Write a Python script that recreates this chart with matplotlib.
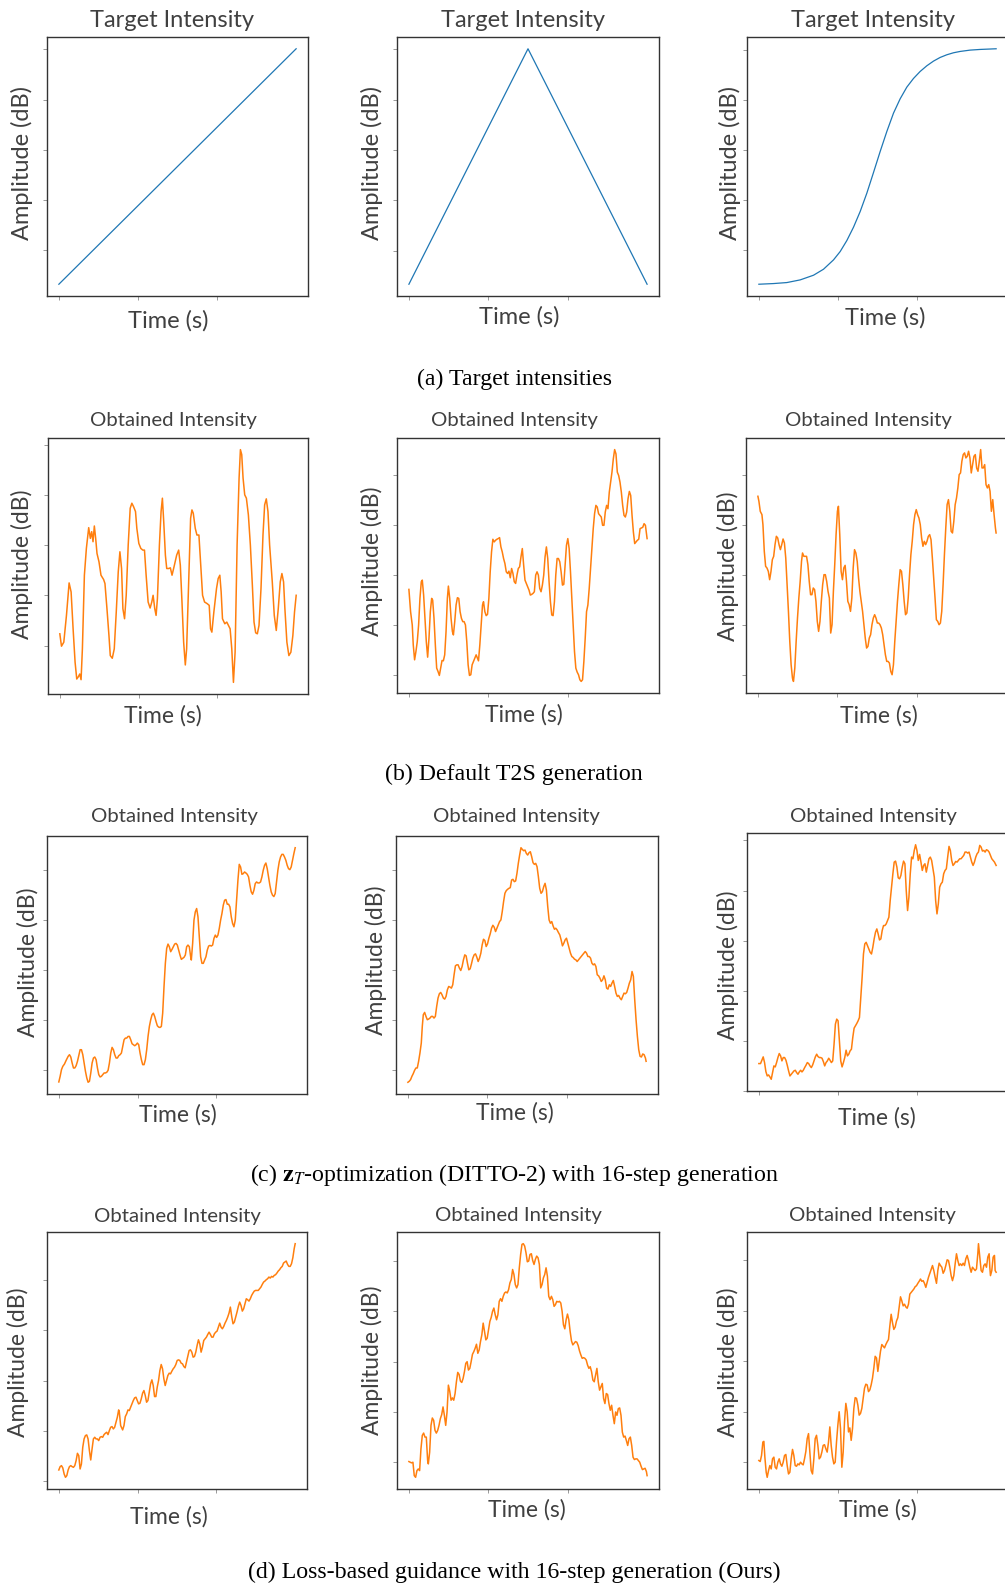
import numpy as np
import matplotlib.pyplot as plt
from matplotlib.ticker import FixedLocator, MaxNLocator

W, H = 1005, 1585
BLUE = '#1f77b4'
ORANGE = '#ff7f0e'
TXT = '#404040'

plt.rcParams['mathtext.fontset'] = 'stix'

# ---- (a) target intensity curves: frame index / level in dB ----
ramp_f = [0, 712]
ramp_db = [-85.3, -14.8]
tri_f = [0, 356, 712]
tri_db = [-85.0, -14.8, -85.0]
sig_f = [236, 280, 320, 360, 400, 430, 460, 480, 500, 520, 540, 560, 580, 600, 620, 640, 660,
         680, 700, 720, 740, 760, 780, 800, 820, 840, 870, 900, 948]
sig_db = [-85.3, -85.1, -84.8, -84.0, -82.6, -80.8, -78.0, -75.5, -72.2, -68.2, -63.5, -58.0,
          -51.8, -45.5, -39.5, -34.0, -29.7, -26.2, -23.6, -21.5, -19.8, -18.4, -17.3, -16.5,
          -15.9, -15.5, -15.1, -14.9, -14.7]

# ---- (b) default T2S generation ----
t2s_ramp_f = [178, 183, 190, 198, 206, 212, 218, 224, 229, 234, 238, 242, 246, 252, 258, 265, 270,
              274, 278, 282, 286, 290, 296, 302, 310, 314, 320, 326, 330, 336, 342, 348, 354, 359,
              364, 368, 373, 378, 384, 390, 395, 400, 406, 410, 416, 422, 428, 433, 438, 444, 450,
              455, 459, 464, 468, 472, 478, 483, 487, 491, 496, 500, 506, 511, 516, 522, 530, 536,
              541, 546, 551, 556, 560, 566, 572, 576, 580, 586, 591, 597, 602, 608, 614, 622, 628,
              632, 636, 642, 650, 655, 660, 664, 668, 675, 681, 686, 691, 696, 701, 706, 712, 718,
              722, 726, 730, 735, 740, 746, 752, 758, 763, 768, 773, 778, 784, 790, 795, 800, 805,
              810, 818, 824, 830, 836, 842, 847, 852, 856, 862, 868, 874, 880, 885, 890]
t2s_ramp_db = [-71.5, -75.2, -74.0, -66.0, -56.3, -59.0, -70.0, -80.0, -85.0, -84.3, -83.5, -85.2,
               -76.0, -54.0, -46.0, -39.8, -43.0, -41.0, -44.0, -39.3, -43.0, -47.5, -50.0, -54.0,
               -55.3, -56.5, -64.0, -72.0, -78.0, -78.8, -76.0, -65.0, -53.0, -47.0, -52.0, -64.0,
               -67.0, -60.0, -45.0, -34.0, -32.5, -33.5, -35.0, -40.0, -44.5, -46.0, -46.5, -46.5,
               -54.0, -62.0, -63.8, -62.0, -60.0, -64.0, -66.0, -61.0, -45.0, -35.0, -31.0, -38.0,
               -48.0, -52.0, -52.0, -51.8, -54.0, -51.5, -48.0, -46.5, -51.0, -62.0, -74.0, -80.8,
               -76.0, -56.0, -37.0, -34.5, -35.5, -40.0, -42.0, -42.0, -50.0, -60.0, -62.0, -62.5,
               -63.0, -70.0, -71.0, -65.0, -58.0, -55.0, -54.0, -59.0, -67.0, -68.5, -68.0, -69.0,
               -70.0, -76.0, -86.0, -77.0, -45.0, -25.0, -16.5, -18.0, -25.0, -30.0, -31.0, -36.0,
               -45.0, -57.0, -68.0, -71.2, -71.5, -69.0, -58.0, -42.0, -33.0, -31.2, -35.0, -45.0,
               -56.0, -66.0, -70.5, -64.0, -56.0, -53.5, -56.0, -64.0, -74.0, -78.0, -77.0, -72.0,
               -65.0, -60.0]

t2s_tri_f = [73, 78, 83, 86, 90, 94, 98, 102, 106, 110, 113, 117, 121, 125, 129, 133, 137, 141, 144,
             148, 152, 156, 160, 164, 168, 172, 176, 180, 184, 188, 191, 195, 199, 203, 206, 210,
             214, 218, 222, 226, 230, 234, 238, 242, 246, 250, 254, 258, 262, 266, 270, 274, 278,
             281, 285, 289, 293, 296, 300, 304, 308, 312, 316, 320, 324, 328, 332, 336, 340, 344,
             348, 352, 356, 360, 364, 368, 372, 376, 380, 384, 388, 392, 396, 400, 404, 408, 412,
             416, 420, 424, 428, 432, 436, 440, 444, 448, 452, 456, 460, 464, 468, 472, 476, 480,
             484, 488, 492, 496, 500, 504, 508, 512, 516, 520, 524, 528, 532, 536, 540, 544, 548,
             552, 556, 560, 564, 568, 572, 576, 580, 584, 588, 592, 596, 600, 604, 608, 612, 616,
             620, 624, 628, 632, 636, 640, 644, 648, 652, 656, 660, 664, 668, 672, 676, 680, 684,
             688, 692, 696, 700, 704, 708, 712, 716, 720, 724, 728, 732, 736, 740, 744, 748, 752,
             756, 760, 764, 768, 772, 776, 780, 785]
t2s_tri_db = [-49.3, -56.0, -60.0, -66.0, -70.5, -68.0, -65.0, -60.0, -52.0, -47.0, -46.5, -51.0,
              -58.0, -65.0, -69.7, -64.0, -56.0, -52.0, -52.5, -58.0, -66.0, -73.0, -74.0, -75.2,
              -73.0, -70.7, -70.8, -69.0, -62.0, -52.0, -48.3, -52.0, -58.0, -62.0, -63.0, -59.0,
              -54.0, -51.8, -52.0, -56.0, -58.0, -59.0, -59.0, -60.0, -65.0, -72.0, -75.2, -75.0,
              -72.0, -71.0, -70.0, -69.0, -70.0, -70.8, -66.0, -60.0, -54.0, -53.0, -56.0, -57.2,
              -56.8, -52.0, -44.0, -38.0, -34.2, -35.0, -34.5, -34.2, -34.0, -33.7, -36.5, -38.0,
              -40.0, -41.5, -44.0, -44.5, -43.8, -45.8, -43.0, -44.5, -47.0, -47.5, -45.0, -43.0,
              -42.5, -39.5, -37.0, -42.0, -46.5, -47.5, -48.5, -49.5, -51.0, -50.8, -50.5, -50.0,
              -45.0, -44.0, -45.0, -49.0, -50.0, -48.0, -45.0, -39.5, -36.5, -40.0, -47.0, -53.0,
              -57.0, -57.2, -53.0, -45.0, -40.0, -40.0, -41.0, -44.0, -48.0, -47.8, -42.0, -36.0,
              -34.0, -37.0, -44.0, -52.0, -60.0, -68.0, -73.0, -74.2, -75.0, -76.5, -77.0, -76.5,
              -71.0, -64.0, -56.0, -54.0, -49.0, -43.0, -37.0, -31.0, -26.5, -24.0, -24.5, -26.5,
              -27.0, -27.5, -30.0, -30.0, -26.0, -24.0, -25.0, -20.0, -17.0, -14.0, -10.0, -7.2,
              -8.5, -14.0, -15.0, -17.0, -20.0, -24.0, -27.0, -27.5, -26.0, -22.0, -19.8, -21.0,
              -27.0, -32.0, -35.5, -35.0, -34.5, -34.2, -31.0, -30.8, -30.6, -29.5, -30.0, -34.0]

t2s_sig_f = [85, 88, 92, 97, 100, 104, 108, 112, 116, 120, 124, 128, 132, 136, 140, 144, 148, 152,
             156, 160, 164, 168, 172, 176, 180, 184, 188, 191, 195, 199, 203, 207, 211, 215, 218,
             222, 226, 230, 234, 238, 242, 246, 250, 254, 258, 262, 266, 270, 274, 278, 282, 286,
             290, 294, 298, 302, 306, 310, 314, 318, 322, 325, 329, 333, 337, 341, 345, 349, 353,
             357, 361, 365, 369, 373, 377, 381, 385, 389, 393, 397, 401, 405, 409, 413, 417, 421,
             425, 429, 433, 437, 441, 445, 449, 453, 457, 461, 465, 469, 473, 477, 481, 485, 489,
             493, 497, 501, 505, 509, 513, 517, 521, 525, 529, 533, 537, 541, 545, 549, 553, 557,
             561, 565, 569, 573, 577, 581, 585, 589, 593, 597, 601, 605, 609, 613, 617, 621, 625,
             629, 633, 637, 641, 645, 649, 653, 657, 661, 665, 669, 673, 677, 681, 685, 689, 693,
             697, 701, 705, 709, 713, 717, 721, 725, 729, 733, 737, 741, 745, 749, 753, 757, 761,
             765, 769, 773, 777, 781, 785, 789, 793, 795]
t2s_sig_db = [-21.5, -23.0, -26.0, -27.0, -30.0, -38.0, -42.5, -43.0, -44.0, -46.5, -44.0, -40.5,
              -39.5, -36.0, -33.5, -34.0, -36.0, -37.5, -36.0, -34.3, -35.5, -40.0, -48.0, -56.0,
              -65.0, -72.0, -76.0, -77.0, -73.0, -65.0, -58.0, -52.0, -47.0, -41.0, -38.5, -39.5,
              -39.5, -39.5, -42.0, -47.0, -51.0, -51.0, -49.0, -49.5, -53.0, -59.0, -62.0, -59.0,
              -53.0, -48.0, -45.0, -45.0, -47.0, -50.0, -52.0, -62.5, -60.0, -50.0, -42.0, -33.0,
              -26.0, -24.5, -33.0, -44.0, -46.5, -43.0, -42.2, -47.0, -53.0, -54.0, -56.0, -52.0,
              -43.0, -37.5, -38.5, -41.0, -46.0, -50.0, -53.0, -56.0, -60.0, -64.0, -67.0, -66.5,
              -64.0, -63.0, -60.0, -58.0, -57.0, -58.0, -59.5, -59.5, -60.0, -61.0, -63.0, -66.0,
              -69.0, -71.0, -71.0, -71.5, -74.0, -75.0, -72.0, -65.0, -59.0, -53.0, -48.0, -43.5,
              -44.0, -48.0, -53.0, -57.0, -56.5, -52.0, -45.0, -39.0, -35.0, -30.0, -27.0, -25.5,
              -27.0, -28.0, -30.0, -34.0, -36.5, -35.0, -36.0, -35.0, -33.5, -33.0, -34.5, -40.0,
              -46.0, -52.0, -58.5, -59.0, -60.0, -59.5, -56.0, -48.0, -39.0, -31.0, -24.0, -22.5,
              -26.0, -32.0, -32.5, -29.0, -24.0, -22.0, -19.0, -15.0, -14.5, -11.0, -9.0, -8.5,
              -10.0, -9.5, -8.0, -10.0, -14.5, -12.0, -9.5, -9.0, -13.0, -14.0, -11.0, -7.5,
              -13.0, -13.0, -12.0, -18.0, -19.0, -18.0, -20.0, -26.0, -22.5, -27.0, -31.0, -32.5]

# ---- (c) z_T-optimization (DITTO-2), 16 steps ----
ditto_ramp_f = [58, 62, 66, 70, 75, 80, 86, 90, 94, 98, 102, 106, 110, 114, 118, 122, 126, 130,
                134, 138, 142, 146, 150, 154, 158, 162, 166, 170, 174, 178, 182, 186, 190, 194,
                198, 202, 206, 210, 214, 218, 222, 226, 230, 234, 238, 242, 246, 250, 254, 258,
                262, 266, 270, 274, 278, 282, 286, 290, 294, 298, 302, 306, 310, 314, 318, 322,
                326, 330, 334, 338, 342, 346, 350, 354, 358, 362, 366, 370, 374, 378, 382, 386,
                390, 394, 398, 402, 406, 410, 414, 418, 422, 426, 430, 434, 438, 442, 446, 450,
                454, 456, 460, 464, 468, 472, 476, 480, 484, 488, 492, 496, 500, 504, 508, 512,
                516, 520, 524, 528, 532, 536, 540, 544, 548, 552, 556, 560, 564, 568, 572, 576,
                580, 584, 588, 592, 596, 600, 604, 608, 612, 616, 620, 624, 628, 632, 636, 640,
                644, 648, 652, 656, 660, 664, 668, 672, 676, 680, 684, 688, 692, 696, 700, 704,
                708, 712, 716, 720, 724, 728, 732, 736, 740, 744, 748, 752, 756, 760, 764, 768]
ditto_ramp_db = [-78.7, -77.0, -75.0, -74.0, -73.3, -72.2, -71.0, -70.5, -71.2, -73.0, -74.5,
                 -74.5, -73.8, -72.5, -70.8, -69.0, -69.0, -70.5, -73.0, -75.5, -77.5, -78.8,
                 -78.5, -76.0, -73.0, -71.5, -71.2, -72.0, -74.5, -76.5, -77.2, -77.0, -76.5,
                 -76.0, -76.0, -75.8, -75.2, -73.0, -70.0, -68.3, -69.0, -70.5, -71.5, -71.5,
                 -70.8, -70.5, -70.0, -68.0, -66.0, -65.5, -65.5, -65.0, -65.0, -66.0, -67.2,
                 -67.5, -67.8, -67.5, -67.0, -67.5, -70.0, -72.0, -73.5, -73.5, -72.0, -69.0,
                 -65.0, -62.0, -60.0, -58.5, -58.0, -59.0, -60.5, -61.8, -62.2, -62.3, -62.0,
                 -58.0, -50.0, -43.0, -38.5, -37.2, -38.0, -39.5, -38.8, -38.0, -37.2, -37.0,
                 -37.5, -39.0, -40.5, -41.8, -41.5, -41.2, -40.5, -38.0, -37.5, -38.0, -41.0,
                 -42.0, -37.0, -30.0, -27.5, -26.5, -29.0, -35.0, -41.0, -43.0, -43.0, -42.0,
                 -41.0, -39.0, -37.8, -37.6, -37.8, -37.5, -35.5, -34.5, -35.2, -34.5, -32.5,
                 -30.0, -28.0, -25.5, -24.0, -23.8, -25.2, -25.2, -26.0, -29.0, -31.0, -32.0,
                 -30.0, -24.0, -18.0, -13.2, -14.0, -16.2, -16.0, -15.5, -15.8, -16.2, -17.0,
                 -19.5, -21.5, -22.2, -21.0, -19.0, -18.5, -18.8, -18.8, -18.5, -17.0, -15.0,
                 -13.5, -12.8, -14.5, -17.0, -19.5, -21.5, -22.5, -22.9, -22.0, -18.5, -15.0,
                 -12.5, -11.0, -10.2, -10.2, -11.0, -12.0, -13.5, -14.5, -14.8, -14.0, -12.0,
                 -10.0, -8.2]

ditto_tri_f = [70, 74, 78, 82, 86, 90, 94, 98, 102, 106, 110, 113, 116, 120, 124, 128, 132, 136,
               140, 144, 148, 152, 156, 160, 164, 168, 172, 176, 180, 184, 188, 192, 196, 200,
               204, 208, 212, 216, 220, 224, 228, 232, 236, 240, 244, 248, 252, 256, 260, 264,
               268, 272, 276, 280, 284, 288, 292, 296, 300, 304, 308, 312, 316, 320, 324, 328,
               332, 336, 340, 344, 348, 352, 356, 360, 364, 368, 372, 376, 380, 384, 388, 392,
               396, 400, 404, 408, 412, 416, 420, 424, 428, 432, 436, 440, 444, 448, 452, 456,
               460, 464, 468, 472, 476, 480, 484, 488, 492, 496, 500, 504, 508, 512, 516, 520,
               524, 528, 532, 536, 540, 544, 548, 552, 556, 560, 564, 568, 572, 576, 580, 584,
               588, 592, 596, 600, 604, 608, 612, 616, 620, 624, 628, 632, 636, 640, 644, 648,
               652, 656, 660, 664, 668, 672, 676, 680, 684, 688, 692, 696, 700, 704, 708, 712,
               716, 720, 724, 728, 732, 736, 740, 744, 748, 752, 756, 760, 764, 768, 772, 776,
               780, 782]
ditto_tri_db = [-78.8, -78.5, -78.0, -77.0, -76.2, -75.2, -74.5, -74.5, -72.5, -70.0, -67.0,
                -62.0, -58.5, -57.8, -59.0, -60.0, -59.8, -59.5, -59.0, -59.0, -59.5, -59.0,
                -56.0, -53.5, -52.2, -51.8, -52.5, -53.5, -53.8, -53.0, -51.0, -50.0, -50.2,
                -50.5, -49.5, -46.5, -43.8, -43.5, -43.5, -44.5, -45.2, -44.0, -42.0, -40.5,
                -40.8, -43.0, -45.0, -44.7, -43.2, -41.5, -40.5, -40.2, -41.2, -42.5, -41.5,
                -40.0, -37.5, -35.8, -36.2, -38.0, -37.2, -35.5, -34.2, -32.5, -31.6, -32.2,
                -33.5, -32.5, -31.5, -30.5, -30.0, -27.5, -24.5, -22.0, -21.2, -20.8, -20.5,
                -20.3, -18.0, -17.8, -18.5, -18.3, -16.0, -13.0, -10.5, -8.3, -8.8, -9.2, -9.0,
                -10.0, -10.5, -9.8, -9.5, -11.0, -12.8, -13.3, -13.0, -14.0, -17.0, -20.5,
                -22.0, -21.5, -20.0, -19.0, -21.0, -26.0, -30.0, -31.0, -30.5, -31.8, -32.8,
                -32.5, -33.0, -33.8, -34.5, -36.0, -37.8, -37.0, -36.0, -35.5, -37.0, -38.5,
                -40.0, -41.0, -41.3, -41.8, -42.0, -42.5, -42.0, -41.5, -41.0, -40.5, -40.0,
                -39.5, -40.0, -41.0, -41.0, -41.5, -43.0, -43.5, -43.2, -44.0, -46.5, -46.8,
                -47.5, -48.5, -48.0, -46.8, -48.0, -50.5, -50.8, -49.5, -50.0, -49.0, -48.2,
                -50.0, -52.0, -53.0, -52.7, -53.5, -54.0, -53.0, -52.0, -52.2, -51.8, -50.5,
                -49.0, -48.0, -45.5, -47.0, -54.0, -60.0, -65.0, -69.0, -71.0, -71.2, -70.3,
                -70.5, -71.5, -72.5]

ditto_sig_f = [235, 240, 244, 248, 252, 256, 260, 264, 268, 272, 276, 280, 284, 288, 292, 296,
               300, 304, 308, 312, 316, 320, 324, 328, 332, 336, 340, 344, 348, 352, 356, 360,
               364, 368, 372, 376, 380, 384, 388, 392, 396, 400, 404, 408, 412, 416, 420, 424,
               428, 432, 436, 440, 444, 448, 452, 456, 460, 464, 468, 472, 476, 480, 484, 488,
               492, 496, 500, 504, 508, 512, 516, 520, 524, 528, 532, 536, 540, 544, 548, 552,
               556, 560, 564, 568, 572, 576, 580, 584, 588, 592, 596, 600, 604, 608, 612, 616,
               620, 624, 628, 632, 636, 640, 644, 648, 652, 656, 660, 664, 668, 672, 676, 680,
               684, 688, 692, 696, 700, 704, 708, 712, 716, 720, 724, 728, 732, 736, 740, 744,
               748, 752, 756, 760, 764, 768, 772, 776, 780, 784, 788, 792, 796, 800, 804, 808,
               812, 816, 820, 824, 828, 832, 836, 840, 844, 848, 852, 856, 860, 864, 868, 872,
               876, 880, 884, 888, 892, 896, 900, 904, 908, 912, 916, 920, 924, 928, 932, 936,
               940, 945]
ditto_sig_db = [-81.8, -81.8, -80.8, -79.8, -81.5, -84.2, -85.5, -85.2, -85.8, -86.5, -84.5,
                -82.5, -82.8, -81.5, -80.0, -78.8, -79.5, -81.0, -80.0, -80.0, -80.8, -82.3,
                -84.0, -85.5, -85.0, -84.5, -84.0, -83.8, -84.5, -85.0, -84.3, -83.8, -84.3,
                -83.8, -83.0, -82.3, -81.5, -81.8, -82.5, -83.0, -82.2, -81.0, -79.8, -79.0,
                -79.7, -80.0, -80.0, -80.2, -81.2, -82.5, -81.5, -81.0, -80.2, -80.8, -81.5,
                -81.0, -76.0, -70.0, -68.5, -69.0, -75.0, -81.0, -82.8, -81.5, -80.0, -77.8,
                -79.5, -79.0, -78.0, -77.5, -74.0, -71.2, -70.5, -69.8, -69.0, -68.0, -62.0,
                -56.0, -49.0, -46.0, -45.5, -46.5, -47.5, -48.5, -49.0, -47.0, -44.5, -42.5,
                -41.5, -43.0, -44.8, -44.5, -42.0, -40.5, -40.5, -40.0, -39.0, -38.0, -33.0,
                -29.0, -25.0, -21.5, -21.2, -23.0, -26.2, -26.5, -25.5, -23.0, -21.2, -22.0,
                -30.0, -36.0, -32.0, -25.0, -20.0, -20.5, -18.0, -16.3, -18.0, -21.0, -19.2,
                -21.5, -24.0, -22.5, -22.0, -24.5, -22.5, -20.5, -20.0, -21.0, -23.5, -26.0,
                -33.0, -37.0, -34.0, -29.0, -28.0, -27.5, -25.0, -24.0, -23.5, -20.0, -16.8,
                -18.0, -21.0, -22.5, -22.0, -21.3, -21.5, -21.0, -20.5, -20.5, -20.0, -19.5,
                -18.5, -18.5, -18.8, -18.5, -20.0, -21.5, -22.5, -21.5, -20.0, -19.0, -18.5,
                -16.5, -17.0, -18.2, -18.0, -18.5, -17.8, -18.0, -18.5, -19.5, -20.5, -21.0,
                -21.5, -22.5]

# ---- (d) loss-based guidance, 16 steps (ours) ----
ours_ramp_f = [176, 180, 184, 188, 192, 196, 200, 204, 208, 212, 216, 220, 224, 228, 232, 236,
               240, 244, 248, 252, 256, 260, 264, 268, 272, 276, 280, 284, 288, 292, 296, 300,
               304, 308, 312, 316, 320, 324, 328, 332, 336, 340, 344, 348, 352, 356, 358, 362,
               368, 372, 376, 380, 384, 388, 392, 396, 400, 404, 408, 412, 416, 420, 424, 428,
               432, 436, 440, 444, 448, 452, 456, 460, 464, 468, 472, 476, 480, 484, 488, 492,
               496, 500, 504, 508, 512, 516, 520, 524, 528, 532, 536, 540, 544, 548, 552, 556,
               560, 564, 568, 572, 576, 580, 584, 588, 592, 596, 600, 604, 608, 612, 616, 620,
               624, 628, 632, 636, 640, 644, 648, 652, 656, 660, 664, 668, 672, 676, 680, 684,
               688, 692, 696, 700, 704, 708, 712, 716, 720, 724, 728, 732, 736, 740, 744, 748,
               752, 756, 760, 764, 768, 772, 776, 780, 784, 788, 792, 796, 800, 804, 808, 812,
               816, 820, 824, 828, 832, 836, 840, 844, 848, 852, 856, 860, 864, 868, 872, 876,
               880, 884, 887]
ours_ramp_db = [-86.8, -85.8, -85.5, -86.2, -88.0, -89.0, -88.5, -86.8, -85.8, -85.5, -85.8,
                -86.0, -85.5, -84.0, -81.8, -82.5, -86.5, -85.0, -80.0, -77.5, -76.5, -76.3,
                -77.5, -81.0, -83.8, -80.5, -77.5, -77.0, -77.5, -77.5, -78.0, -77.0, -76.8,
                -77.0, -76.2, -75.8, -75.5, -76.2, -75.0, -74.0, -73.8, -74.5, -74.0, -72.5,
                -71.0, -68.8, -69.5, -73.5, -74.8, -73.5, -70.8, -70.0, -68.8, -69.0, -68.0,
                -67.0, -66.0, -65.2, -65.0, -66.0, -67.0, -66.8, -65.5, -63.8, -63.0, -64.5,
                -66.5, -66.0, -63.5, -61.0, -59.8, -61.5, -64.8, -64.8, -62.0, -60.0, -57.0,
                -55.2, -56.5, -59.5, -61.5, -60.0, -58.5, -57.8, -58.0, -57.2, -56.5, -56.0,
                -55.2, -54.0, -53.8, -54.0, -54.8, -55.0, -55.8, -56.2, -54.5, -52.8, -51.0,
                -50.8, -51.5, -53.0, -52.8, -51.5, -49.5, -47.8, -49.0, -51.5, -50.0, -48.0,
                -47.5, -47.0, -46.2, -45.5, -46.2, -47.0, -47.0, -46.0, -45.5, -45.2, -44.0,
                -42.8, -44.0, -44.5, -43.8, -42.8, -42.0, -41.0, -39.8, -38.0, -40.8, -43.0,
                -42.5, -41.0, -39.5, -37.8, -36.5, -37.5, -39.2, -38.5, -37.0, -35.5, -35.8,
                -36.2, -35.5, -34.5, -33.8, -33.2, -33.0, -33.0, -33.0, -32.5, -32.0, -31.2,
                -30.5, -30.2, -29.8, -29.5, -29.0, -29.3, -28.8, -29.0, -28.5, -28.3, -27.8,
                -27.2, -26.8, -26.2, -25.8, -24.8, -24.5, -24.2, -25.2, -25.8, -25.8, -25.0,
                -23.2, -20.5, -19.0]

ours_tri_f = [70, 74, 78, 82, 86, 90, 94, 98, 102, 106, 110, 114, 118, 122, 126, 128, 132, 136,
              140, 144, 148, 152, 156, 160, 164, 168, 172, 176, 180, 184, 188, 192, 196, 200,
              204, 208, 212, 216, 220, 224, 228, 232, 236, 240, 244, 248, 252, 256, 260, 264,
              268, 272, 276, 280, 284, 288, 292, 296, 300, 304, 308, 312, 316, 320, 324, 328,
              332, 336, 340, 344, 348, 352, 356, 360, 364, 368, 372, 376, 380, 384, 388, 392,
              396, 400, 404, 408, 412, 416, 420, 424, 428, 432, 436, 440, 444, 448, 452, 456,
              460, 464, 468, 472, 476, 480, 484, 488, 492, 496, 500, 504, 508, 512, 516, 520,
              524, 528, 532, 536, 540, 544, 548, 552, 556, 560, 564, 568, 572, 576, 580, 584,
              588, 592, 596, 600, 604, 608, 612, 616, 620, 624, 628, 632, 636, 640, 644, 648,
              652, 656, 660, 664, 668, 672, 676, 680, 684, 688, 692, 696, 700, 704, 708, 712,
              716, 720, 724, 728, 732, 736, 740, 744, 748, 752, 756, 760, 764, 768, 772, 776,
              780, 782]
ours_tri_db = [-74.8, -75.0, -75.2, -75.0, -79.0, -79.5, -77.5, -77.0, -77.5, -71.0, -67.0,
               -66.3, -67.5, -67.5, -74.5, -75.5, -72.0, -64.0, -61.8, -62.5, -65.5, -66.3,
               -65.5, -64.0, -62.0, -60.8, -58.5, -61.0, -64.0, -60.0, -52.0, -53.8, -56.5,
               -55.8, -56.5, -54.5, -51.0, -48.2, -48.8, -50.8, -51.2, -50.0, -48.0, -45.5,
               -45.0, -47.5, -47.0, -45.0, -42.8, -42.0, -41.0, -39.8, -42.5, -41.5, -39.0,
               -37.0, -33.5, -36.0, -38.5, -38.0, -35.5, -33.0, -31.8, -30.0, -29.0, -31.0,
               -32.5, -31.0, -27.0, -26.2, -27.0, -25.5, -24.5, -24.2, -24.5, -23.5, -21.5,
               -20.5, -17.5, -19.0, -22.0, -23.0, -22.0, -17.0, -13.0, -10.0, -9.8, -10.5,
               -12.5, -15.2, -15.0, -13.0, -12.8, -14.8, -16.0, -14.5, -13.5, -14.0, -16.0,
               -23.0, -22.0, -20.0, -19.0, -17.0, -19.5, -25.5, -26.5, -25.5, -26.5, -28.5,
               -28.0, -27.0, -27.2, -27.0, -27.5, -30.0, -34.0, -35.2, -32.5, -30.8, -32.5,
               -36.0, -38.8, -40.0, -39.5, -39.0, -39.2, -40.2, -41.8, -43.0, -44.0, -43.8,
               -44.0, -44.5, -46.0, -47.0, -46.5, -48.0, -50.5, -51.0, -49.0, -47.0, -51.0,
               -53.5, -52.5, -51.5, -56.0, -57.5, -54.5, -54.8, -57.5, -59.5, -58.0, -61.0,
               -63.5, -60.0, -61.0, -59.0, -58.8, -61.0, -66.0, -67.5, -67.2, -68.5, -70.0,
               -68.0, -67.5, -70.0, -73.5, -74.2, -74.0, -74.0, -74.5, -75.0, -76.2, -77.2,
               -77.0, -76.8, -77.8, -79.0]

ours_sig_f = [85, 89, 93, 97, 100, 103, 107, 110, 114, 118, 122, 126, 130, 134, 138, 142, 146,
              150, 154, 158, 162, 166, 170, 174, 178, 182, 186, 190, 194, 198, 202, 206, 210,
              214, 218, 222, 226, 230, 234, 238, 242, 246, 250, 254, 258, 262, 266, 270, 274,
              278, 282, 286, 290, 294, 298, 302, 306, 310, 314, 318, 322, 326, 330, 334, 338,
              342, 346, 350, 354, 358, 362, 366, 370, 374, 378, 382, 386, 390, 394, 398, 402,
              406, 410, 414, 418, 422, 426, 430, 434, 438, 442, 446, 450, 454, 458, 462, 466,
              470, 474, 478, 482, 486, 490, 494, 498, 502, 506, 510, 514, 518, 522, 526, 530,
              534, 538, 542, 546, 550, 554, 558, 562, 566, 570, 574, 578, 582, 586, 590, 594,
              598, 602, 606, 610, 614, 618, 622, 626, 630, 634, 638, 642, 646, 650, 654, 658,
              662, 666, 670, 674, 678, 682, 686, 690, 694, 698, 702, 706, 710, 714, 718, 722,
              726, 730, 734, 738, 742, 744, 748, 752, 756, 760, 764, 768, 772, 776, 778, 780,
              784, 788, 792, 794, 797]
ours_sig_db = [-74.5, -74.8, -73.0, -69.0, -68.8, -73.5, -78.0, -79.5, -77.5, -76.0, -77.0,
               -74.0, -73.5, -76.5, -77.0, -75.0, -74.0, -75.5, -76.2, -75.0, -73.0, -72.7,
               -76.0, -78.5, -78.0, -74.0, -71.2, -73.0, -76.0, -76.2, -75.5, -75.8, -75.0,
               -75.5, -75.8, -74.0, -71.8, -68.0, -66.5, -72.0, -77.5, -78.5, -74.0, -68.0,
               -67.0, -70.0, -74.0, -73.5, -72.0, -70.0, -69.8, -71.0, -72.0, -69.0, -64.5,
               -70.0, -73.5, -75.5, -75.0, -69.0, -64.0, -60.0, -65.0, -76.5, -72.0, -63.0,
               -57.5, -60.0, -66.0, -64.8, -68.5, -65.0, -59.0, -55.8, -56.0, -58.0, -61.0,
               -60.5, -59.0, -56.0, -53.0, -51.8, -52.0, -54.0, -53.5, -52.0, -50.0, -47.0,
               -43.5, -44.0, -48.0, -45.0, -42.0, -40.0, -40.5, -41.0, -40.0, -39.2, -38.5,
               -34.5, -31.0, -33.5, -35.5, -34.8, -33.0, -32.0, -29.0, -25.8, -27.0, -28.5,
               -28.0, -28.8, -29.2, -28.0, -25.0, -24.5, -24.0, -23.5, -22.8, -22.5, -21.8,
               -21.2, -20.5, -21.2, -21.0, -21.8, -23.0, -21.5, -20.0, -18.8, -17.5, -16.5,
               -18.0, -20.0, -21.8, -18.0, -15.8, -16.5, -17.0, -18.8, -18.0, -16.5, -14.8,
               -15.0, -17.0, -19.5, -21.0, -19.5, -16.0, -13.0, -15.0, -16.5, -16.0, -16.5,
               -15.8, -16.5, -14.5, -13.5, -15.0, -17.0, -18.5, -17.0, -17.5, -18.0, -17.5,
               -13.0, -10.0, -14.0, -18.0, -18.5, -16.5, -16.0, -17.0, -14.0, -13.0, -17.0,
               -19.5, -18.0, -14.0, -13.5, -18.0, -18.5]


def px_axes(fig, left, top, right, bottom):
    return fig.add_axes([left / W, 1 - bottom / H, (right - left) / W, (bottom - top) / H])


def px_text(fig, x, y, s, **kw):
    fig.text(x / W, 1 - (y + 2.5) / H, s, ha='center', va='center', **kw)


fig = plt.figure(figsize=(W / 100, H / 100), dpi=100)
fig.patch.set_facecolor('white')

# box (left, top, right, bottom), title xy, xlabel xy, ylabel xy, series, colour
panels = [
    ((47, 37, 308, 296), (172, 18), (168, 318), (22, 160), ramp_f, ramp_db, BLUE, 'Target Intensity'),
    ((397, 37, 659, 296), (523, 18), (519, 314), (372, 160), tri_f, tri_db, BLUE, 'Target Intensity'),
    ((747, 37, 1008, 296), (873, 18), (885, 315), (730, 160), sig_f, sig_db, BLUE, 'Target Intensity'),
    ((48, 438, 308, 694), (173, 418), (163, 713), (22, 562), t2s_ramp_f, t2s_ramp_db, ORANGE, 'Obtained Intensity'),
    ((397, 438, 659, 693), (514, 418), (524, 712), (372, 559), t2s_tri_f, t2s_tri_db, ORANGE, 'Obtained Intensity'),
    ((746, 438, 1008, 693), (868, 418), (879, 713), (728, 564), t2s_sig_f, t2s_sig_db, ORANGE, 'Obtained Intensity'),
    ((47, 836, 307, 1094), (174, 814), (178, 1112), (28, 960), ditto_ramp_f, ditto_ramp_db, ORANGE, 'Obtained Intensity'),
    ((396, 836, 658, 1094), (516, 814), (515, 1110), (376, 958), ditto_tri_f, ditto_tri_db, ORANGE, 'Obtained Intensity'),
    ((747, 833, 1008, 1091), (873, 814), (877, 1115), (728, 963), ditto_sig_f, ditto_sig_db, ORANGE, 'Obtained Intensity'),
    ((47, 1232, 307, 1489), (177, 1214), (169, 1514), (18, 1360), ours_ramp_f, ours_ramp_db, ORANGE, 'Obtained Intensity'),
    ((397, 1232, 659, 1489), (518, 1213), (527, 1507), (372, 1358), ours_tri_f, ours_tri_db, ORANGE, 'Obtained Intensity'),
    ((747, 1232, 1008, 1489), (872, 1213), (878, 1507), (728, 1360), ours_sig_f, ours_sig_db, ORANGE, 'Obtained Intensity'),
]

for i, (box, title_xy, xl_xy, yl_xy, frames, db, color, title) in enumerate(panels):
    ax = px_axes(fig, *box)
    f = np.asarray(frames, dtype=float)
    t = 3.0 * (f - f[0]) / (f[-1] - f[0])
    ax.plot(t, db, color=color, lw=0.9 if color == BLUE else 1.1)
    ax.xaxis.set_major_locator(FixedLocator([0, 1, 2]))
    ax.yaxis.set_major_locator(MaxNLocator(6))
    ax.tick_params(labelbottom=False, labelleft=False, length=3, width=0.7, color='#999999')
    for sp in ax.spines.values():
        sp.set_color('#333333')
        sp.set_linewidth(1.0)
    top_row = i < 3
    px_text(fig, *title_xy, title, fontsize=17 if top_row else 14.7, color=TXT, family='Lato')
    px_text(fig, *xl_xy, 'Time (s)', fontsize=17 if top_row else 16.5, color=TXT, family='Lato')
    px_text(fig, *yl_xy, 'Amplitude (dB)', fontsize=17 if top_row else 16.5, color=TXT,
            family='Lato', rotation=90)

captions = [
    (377, '(a) Target intensities'),
    (772, '(b) Default T2S generation'),
    (1172, r'(c) $\mathbf{z}_T$-optimization (DITTO-2) with 16-step generation'),
    (1570, '(d) Loss-based guidance with 16-step generation (Ours)'),
]
for y, s in captions:
    px_text(fig, 514, y, s, fontsize=17.2, color='black', family='Liberation Serif')

fig.savefig('out.png', dpi=100, facecolor='white')
